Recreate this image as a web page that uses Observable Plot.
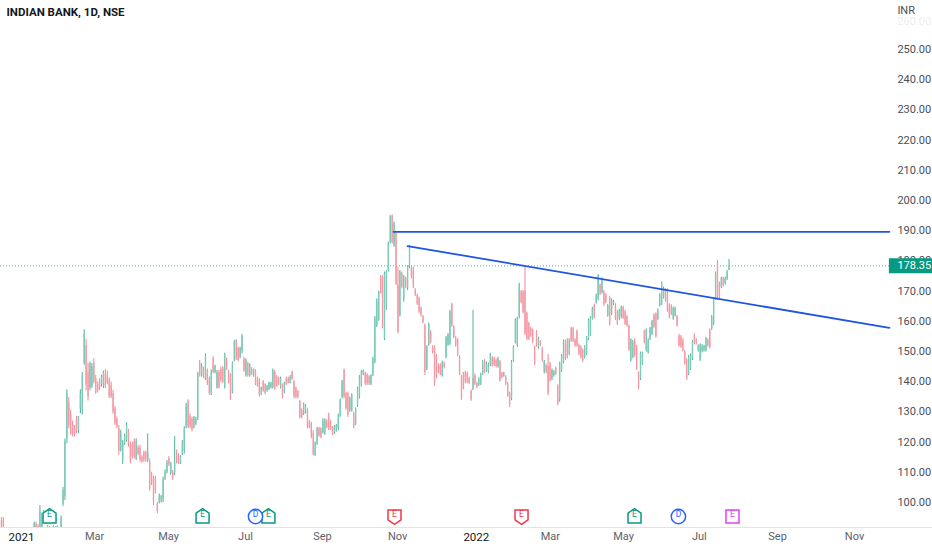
<!DOCTYPE html>
<html><head><meta charset="utf-8">
<script src="https://cdn.jsdelivr.net/npm/d3@7"></script>
<script src="https://cdn.jsdelivr.net/npm/@observablehq/plot@0.6"></script>
<style>html,body{margin:0;padding:0;background:#fff}svg{display:block}</style>
</head><body><div id="chart"></div>
<script>
const _=null;
const highs=[_,95,95,_,_,_,_,_,_,_,_,_,_,_,_,_,_,_,93.5,93.5,92.7,99,96.5,97.4,_,92.3,92,_,92.3,92,92.3,_,95.5,105,121,137.3,134.7,130.5,127,125.5,128.5,128.5,137.3,143,157.2,154,146,146.5,146,147.6,142,139.9,141,142.1,143.5,144,143.5,141.3,139.9,137.1,131.8,128.3,125.5,123.9,120.5,
122.7,126.4,124.2,120,120,121.1,121.1,118.9,118.9,115.5,117,117,122.7,114.4,110,108.7,108.7,100,102.8,102.3,108.4,110.8,113.9,115.2,113.3,110.6,121.8,117.4,116.1,115.5,120.5,125.1,132.8,134,129.3,128.2,128.5,128.2,143.1,147,146,144.8,149.2,144.2,141.5,143.9,148.3,145.4,143.7,143.7,144.8,145,149.4,147.9,143.7,142.6,146.5,153.6,153.9,151.4,151.4,155.6,148.1,147.6,
146.4,145.9,144.6,144.2,143.9,141.5,141,138.2,140.4,139.3,138.7,139.8,139.8,144.2,143.7,142,141.5,141.5,139.3,139.8,141.5,141.5,142,143.5,140.4,138.2,137.1,133.8,131,132.9,132.4,131,127.1,126.6,123.8,120,124.9,124.9,124.7,127.7,127.7,127.4,129.6,127.1,125.1,125.5,125.8,129.3,134.3,140.4,144.2,136.5,136.5,134.9,136,129.9,131.3,138.2,142,143.7,143.9,143.1,
142.6,142,142.3,148.1,161.6,167.4,170,175.1,175.1,176.3,176.8,186.2,195,195.2,192.8,189.5,177.9,176.8,176.3,175.1,174.6,178.4,185.1,178.1,177.9,170.8,169,168,164.7,161.9,159.1,151.9,159.4,156.9,151.9,151.9,149,145.9,145.9,146.8,146.5,155,155.9,163.6,166,158.6,154.9,154.2,148.6,142,143.1,143.5,143.1,141.5,137.3,163.6,142.6,139.8,141.3,142.8,147,147.3,146.5,
146.1,149.4,148.3,148.1,147.5,148.1,147,143.1,143.1,142,139.8,136.5,147,151.9,160.8,161.3,172.6,170.2,170.2,178.4,163,159.7,158,157.5,151.9,156.9,154.7,153.6,151.4,147,145.9,149,146.4,144.2,143.7,144.8,139,146.4,149,153.8,153.8,154.2,154.2,158,158,154.2,157.1,152.5,151.9,150.8,151.9,154.9,160.8,161.5,164.6,165.7,169,175.5,172.4,174.4,170.2,
169.1,165.5,168.3,167.4,166.9,165.8,163.6,163.9,165,165,163.6,161.9,158.8,154.2,153.6,154.2,152,143.2,149.8,149.8,157,157.5,154.2,158,160.3,162.5,162.8,164.1,169.1,173,171.3,170.8,170.8,165.8,165.5,164.7,164.7,161.9,155.6,155.3,154.2,150.3,147.6,148.7,149.2,153.6,155.9,154.2,152.2,152.5,152.3,152,154.7,154.2,157.5,161.9,167.7,176.3,180.1,173,174.6,174.6,174.6,176.8,180.5];
const lows=[_,91,91,_,_,_,_,_,_,_,_,_,_,_,_,_,_,_,91,91,91,91,91,94,_,90,90,_,90,90,90,_,91.5,98.7,100.7,119.5,124.4,122.2,121.7,121.7,122.8,122.8,129.4,129,145.4,137,133.6,137,137.7,139.3,135.8,136.2,137.1,138.2,137.7,137.7,139,134.4,134.4,129.2,125.5,124.4,115.6,116.7,112.6,
118.9,120,118.3,112.8,114.4,114.4,113.9,115.5,113.3,113,113.3,113.3,113.3,103.7,105.6,99,102.8,96.2,99.5,99.8,100,107.3,109.5,111.9,108.9,107.3,108.9,112.8,112.6,112.6,115.5,116,124.4,124.4,124.4,123.3,124.4,125.5,127.1,141.5,141.5,141,140.4,138.7,135.4,135.4,142.6,142.6,137.6,137.6,139.8,139.3,137.6,143.7,139.3,133.8,136,146.5,147,146.5,147.6,149.2,143.1,141.5,
141.5,141.5,142,141.5,138.7,138.2,134.9,135.4,136.5,135.7,136.5,137.1,137.6,137.6,137.1,138.2,138.7,137.6,134.3,136,138.7,139.3,139.3,140.4,134.3,134.3,134.3,127.7,127.7,128.8,129.3,124.4,124.4,121.1,115.5,115.2,118.9,121.6,121.1,122.7,122.2,124.4,123.8,123.8,122.2,122.5,123.3,123.8,128.2,134.3,134.3,130.5,128.2,129.9,129.9,124.4,125.5,131.5,134.3,138.2,142,138.7,
138.7,138.7,138.7,141.7,145.9,158,160,169,157.5,153.6,163.6,176.3,185.6,185.6,184.5,171.8,155.8,161.4,170.8,166.3,170.8,170.2,177.4,174,170.8,168.2,165.2,162.5,161.4,159.1,142,143.7,151.7,152.5,149.2,138.4,140.9,142.6,142,141.5,144.2,147.6,151.7,152,158,154.2,151.4,148.3,142,133.8,137.3,139.3,139.3,139,133.5,137,138.7,137.6,138.4,138.7,142,142.6,143.1,
142.6,145,144.8,145,144.5,144.5,139.8,140.9,141.5,138.7,134.8,131.5,133.7,146.4,152.5,151.4,160.8,165.7,162.4,155.3,153.6,153.6,154.7,152.5,145.3,151.4,150.8,151.6,146.4,142.6,142.6,135.4,139.8,140.3,141.5,142,132,133.2,143.1,145.9,147,147.5,148.6,153,153,151.4,151.4,148.6,147.5,146.4,147.5,148.6,153.6,155,160.4,160.8,165.7,166.8,168.5,169,165.7,
165.8,161.4,158.4,161.9,165.2,160.3,158.6,160.3,160.8,160.6,158.6,158,150,146.5,147.6,148.1,143.7,137.4,140.4,145.4,152.5,149.8,149.2,153.6,155.3,157.5,154.4,160.3,164.7,165.2,167.4,166.3,163,160.8,161.9,160.3,161.4,158,151.4,151,149.8,145.4,140.4,142,143.7,147,152.2,152.2,149.8,146.7,149.5,149.8,149.8,151.4,150.8,157,158.6,166.9,167.4,167.4,170.8,171.3,171.9,173.5,176.8];
const opens=[_,94,94,_,_,_,_,_,_,_,_,_,_,_,_,_,_,_,91,93,92,91,91,94.5,_,90,90,_,90,90,90,_,92,99.5,102,121,133,129,126,124.5,127.5,124,131,130,146,152,143,138,138.5,146,141,139,140,139,138.5,142.5,142,140.5,138.5,136,131,127.5,124.5,117.5,114,
119.5,120.5,123.5,119,119,120,114.5,118,118,115,116.5,116.5,114,113.5,109.5,108,108,99.5,100,100.5,101,108,110,114.5,109.5,110,110,117,115.5,113,116,117,125,133.5,128.5,127.5,125,126,128,146,142,144,141,143.5,141,136,147.5,143,138,143,144,144.5,138,147.5,143,142,136.5,147,153.5,151,148,150,147.5,142,
146,142,144,142,143.5,141,140.5,135.8,140,139,137,137.5,138,138,143,141.5,141,138,139,136.5,141,141,139.5,143,140,137.8,136.8,133.5,130.5,129.2,129.7,130.5,126.8,126,123,115.6,119.5,124.5,124.3,123,122.6,127,129,126.7,124.7,123,123.7,124.3,128.7,134.8,143.7,136,136,130.4,130.4,129.4,126,132,135,138.7,142.3,142.8,
142.2,141.6,139.2,142.2,146.5,158.5,160.5,174.7,174.7,154.2,164,176.8,186,194.8,185,189,172,162,175.8,167,174.1,171,177.9,177.6,177.4,170.3,168.5,167.5,164.2,161.4,158.6,144.2,152.2,156.4,151.4,151.4,148.5,145.4,145.4,142,146,148,152.2,152.5,165.5,158.1,154.4,153.7,148.2,141.5,142.6,143,142.6,141,136.8,137.5,142,139.3,138.9,139.2,142.5,146.8,143.6,
143,145.5,147.8,147.6,147,145,146.5,142.6,142,141.5,139.3,136,134.2,146.9,153,152,161.3,169.7,169.7,170,162.5,159.2,157.5,157,151.4,156.4,151.3,153.1,150.9,143.1,145.4,145,145.9,140.8,142,144.3,138.5,134,143.6,146.4,153.3,153.7,149.1,157.5,157.5,153.7,156.6,152,151.4,150.3,148,149.1,154.1,155.5,160.9,165.2,166.2,167.3,171.9,169.5,169.7,
168.6,161.9,167.8,162.4,165.5,165.3,163.1,160.8,161.3,164.5,163.1,161.4,158.3,147,148.1,153.7,151.5,142.7,140.9,145.9,156.5,150.3,149.7,154.1,155.8,162,162.3,160.8,165.2,165.7,167.9,170.3,170.3,165.3,165,160.8,161.9,161.4,155.1,154.8,153.7,149.8,147.1,142.5,144.2,147.5,155.4,153.7,150.3,147.2,150,150.3,150.3,153.7,157,157.5,159.1,167.4,179,172.5,171.3,174.1,172.4,174,177];
const closes=[_,92,92,_,_,_,_,_,_,_,_,_,_,_,_,_,_,_,93,91.5,91,97,95,96.5,_,92,91.5,_,92,91.5,92,_,95,104,120,136,125.5,123,122.5,122.5,123.5,128,136,142,156,139,135,146,145,140,136.5,137,137.5,141.5,143,138.5,139.5,135,135,130,126,125,117,123,119.5,
122,125.5,119,113.5,115,115,120,116,114,113.5,114,114,116.5,104.5,106,100,103.5,97,102,102,107.5,110,113,112.5,112.5,108,113,113.5,113,115,120,124.5,132,125,125,124,128,127.5,142.5,142,145,141.5,148.5,139.5,136,143,143,145,143,138,140.5,140,149,144,140,134.5,146,153,147.5,147,151,155,143.5,147,
142,145.5,142.5,144,139,138.5,135.5,138,137,136,138.3,139.5,139.5,143.5,137.5,138.5,139,141,135,139.5,139,139.5,141.5,140.8,135,134.8,134.8,128,128.2,132.5,132,125,124.8,121.6,116,119.5,124.3,122,121.5,127,127.2,124.8,124.2,124.2,122.6,125,125.4,128.8,133.8,140,135,131,129,134.4,135.5,125,131,137.7,141.5,143.2,143.6,139.2,
139.2,139.2,141.9,147.6,161,166.8,169.5,169.5,158,175.8,176.3,185.7,194.6,186,192.3,172.3,156.3,176.3,171.3,174.6,171.3,178,184.6,174.5,171.3,168.7,165.7,163,161.9,159.6,143,151.4,158.9,153,149.7,139,141.4,143.1,142.5,146.3,144.7,154.5,155.4,163,158.5,154.7,151.9,148.8,142.5,134.3,137.8,139.8,139.8,139.5,134,141,139.2,138.1,140.8,142.3,146.5,143.1,146,
145.6,148.9,145.3,145.5,145,147.6,140.3,141.4,142.6,139.2,135.3,132,146.5,151.4,160.3,160.8,172,166.2,162.9,156,154.1,154.1,155.2,153,145.8,151.9,154.2,152,146.9,146.5,143.1,136,140.3,143.7,143.2,142.5,132.5,146,148.5,153.3,147.5,148,153.7,153.5,153.5,151.9,151.9,149.1,148,146.9,151.4,154.4,160.3,161,164.1,161.3,168.5,175,169,173.9,165,
166.3,165,159,166.9,166.5,160.8,159.1,163.4,164.5,161.1,159.1,158.5,150.5,153.7,153.1,148.6,144.2,137.9,149.3,149.3,153,157,153.7,157.5,159.8,158,154.9,163.6,168.6,172.5,170.8,166.8,163.5,161.3,162.4,164.2,164.2,158.5,151.9,151.5,150.3,145.9,140.9,148.2,148.7,153.1,152.7,152.7,151.7,152,151.6,151.5,154.2,151.9,151.3,161.4,167.2,175.8,168,167.9,174.1,171.8,174.1,176.3,178.35];

const monthIdx=[49.4,87.8,127.8,167.8,206.8,286.2,324.2,363.6,404.2,444.2];
const monthLab=["Mar","May","Jul","Sep","Nov","Mar","May","Jul","Sep","Nov"];
const yearIdx=[11.4,247.7];
const yearLab=["2021","2022"];
const priceTicks=d3.range(100,260,10);
const lastPrice=178.35;
const flatLineIdx=[204.7,462.3], flatLinePrice=[189.6,189.6];
const fallLineIdx=[212,462.3], fallLinePrice=[184.9,157.8];
const markerIdx=[26,105.5,133,139.7,205.2,271.2,329.9,352.7,380.8];
const markerKind=["house","house","circle","house","shield","shield","house","circle","square"];
const markerLetter=["E","E","D","E","E","E","E","D","E"];
const kindColor={house:"#089981",shield:"#f23645",circle:"#2962ff",square:"#e040fb"};

const axisEnd=462.3;
const narrow="'Liberation Sans Narrow','Roboto',sans-serif";
const bars=d3.range(highs.length).filter(i=>highs[i]!=null).map(i=>({i,h:highs[i],l:lows[i],o:opens[i],c:closes[i]}));
const ups=bars.filter(d=>d.c>=d.o), downs=bars.filter(d=>d.c<d.o);
const pairs=(xs,ys)=>xs.map((x,k)=>({x,y:ys[k]}));
const markers=markerIdx.map((x,k)=>({x,kind:markerKind[k],t:markerLetter[k]}));
const symbols={
 house:{draw(c,s){const r=Math.sqrt(s/Math.PI);c.moveTo(0,-r*1.2);c.lineTo(r,-r*.5);c.lineTo(r,r);c.lineTo(-r,r);c.lineTo(-r,-r*.5);c.closePath();}},
 shield:{draw(c,s){const r=Math.sqrt(s/Math.PI);c.moveTo(0,r*1.2);c.lineTo(r,r*.5);c.lineTo(r,-r);c.lineTo(-r,-r);c.lineTo(-r,r*.5);c.closePath();}},
 square:{draw(c,s){const r=Math.sqrt(s/Math.PI);c.rect(-r,-r,2*r,2*r);}},
 circle:{draw(c,s){const r=Math.sqrt(s/Math.PI)*1.1;c.moveTo(r,0);c.arc(0,0,r,0,2*Math.PI);}}
};
const yDomain=[91.72,266.2];
const chart=Plot.plot({
 width:932,height:550,marginLeft:0,marginRight:0,marginTop:0,marginBottom:23,
 style:{background:"#fff",fontFamily:narrow},
 x:{domain:[0.52,484.7],axis:null},
 y:{domain:yDomain,axis:null},
 marks:[
  Plot.ruleY([yDomain[0]],{stroke:"#e0e3eb",strokeWidth:1}),
  Plot.ruleY([lastPrice],{x1:0.52,x2:axisEnd,stroke:"#089981",strokeWidth:1,strokeDasharray:"1,2",strokeOpacity:.75}),
  Plot.ruleX(ups,{x:"i",y1:"l",y2:"h",stroke:"#35a88d",strokeWidth:.9,clip:true}),
  Plot.ruleX(downs,{x:"i",y1:"l",y2:"h",stroke:"#ec7b89",strokeWidth:.9,clip:true}),
  Plot.ruleX(ups,{x:"i",y1:"o",y2:"c",stroke:"#7fcab8",strokeWidth:1.35,clip:true}),
  Plot.ruleX(downs,{x:"i",y1:"o",y2:"c",stroke:"#f59aa5",strokeWidth:1.35,clip:true}),
  Plot.line(pairs(flatLineIdx,flatLinePrice),{x:"x",y:"y",stroke:"#1f55e0",strokeWidth:1.8}),
  Plot.line(pairs(fallLineIdx,fallLinePrice),{x:"x",y:"y",stroke:"#1f55e0",strokeWidth:1.8}),
  ...Object.keys(symbols).map(k=>Plot.dot(markers.filter(m=>m.kind===k),{x:"x",frameAnchor:"bottom",dy:-11,r:6.5,symbol:symbols[k],stroke:kindColor[k],strokeWidth:1.5,fill:"#fff"})),
  ...Object.keys(symbols).map(k=>Plot.text(markers.filter(m=>m.kind===k),{x:"x",text:"t",frameAnchor:"bottom",dy:-11,fill:kindColor[k],fontSize:8.5,fontWeight:400,fontFamily:"Roboto,sans-serif"})),
  Plot.text(priceTicks,{x:axisEnd,y:d=>d,text:d=>d.toFixed(2),textAnchor:"start",dx:8,fill:"#4a4e59",fontSize:11}),
  Plot.text([260],{x:axisEnd,y:d=>d,dy:2,text:d=>d.toFixed(2),textAnchor:"start",dx:8,fill:"#4a4e59",fillOpacity:.12,fontSize:11}),
  Plot.ruleY([lastPrice],{x1:axisEnd,x2:484.7,stroke:"#089981",strokeWidth:15}),
  Plot.text([lastPrice],{x:axisEnd,y:d=>d,text:d=>d.toFixed(2),textAnchor:"start",dx:8,fill:"#fff",fontSize:11}),
  Plot.text(["INDIAN BANK, 1D, NSE"],{frameAnchor:"top-left",dx:6,dy:7,fill:"#131722",fontSize:11.5,fontWeight:700,fontFamily:narrow}),
  Plot.text(["INR"],{x:[axisEnd],frameAnchor:"top",dx:8,dy:6,textAnchor:"start",fill:"#4a4e59",fontSize:11}),
  Plot.axisX({ticks:monthIdx,tickFormat:d=>monthLab[monthIdx.indexOf(d)],tickSize:0,tickPadding:5,fill:"#5d606b",fontSize:11,label:null}),
  Plot.axisX({ticks:yearIdx,tickFormat:d=>yearLab[yearIdx.indexOf(d)],tickSize:0,tickPadding:5,fill:"#131722",fontSize:11.5,fontWeight:400,label:null})
 ]
});
document.getElementById("chart").appendChild(chart);
</script></body></html>
